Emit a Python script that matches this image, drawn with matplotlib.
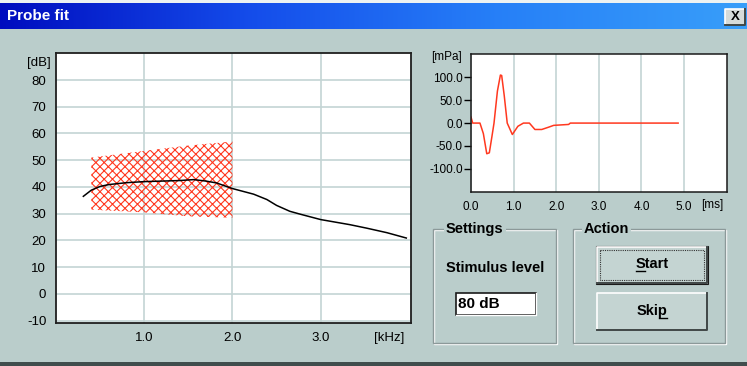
import numpy as np
import matplotlib
matplotlib.use("Agg")
import matplotlib.pyplot as plt
from matplotlib.patches import Rectangle
from matplotlib.colors import LinearSegmentedColormap

plt.rcParams['font.family'] = ['Liberation Sans', 'DejaVu Sans']
plt.rcParams['hatch.linewidth'] = 0.8

# probe fit curve (left chart)
freq_khz = [0.31, 0.4, 0.5, 0.6, 0.8, 1.0, 1.2, 1.4, 1.56, 1.7, 1.82, 2.0, 2.24,
            2.39, 2.5, 2.65, 2.77, 3.0, 3.33, 3.52, 3.75, 3.97]
level_db = [36.5, 38.8, 40.2, 40.9, 41.6, 42.0, 42.2, 42.4, 42.75, 42.2, 41.5, 39.4,
            37.3, 35.3, 33.1, 30.9, 29.8, 27.8, 25.9, 24.6, 22.9, 20.9]

# tolerance band (hatched)
band_khz = [0.4, 1.0, 1.5, 2.0]
band_lo = [31.5, 30.5, 29.0, 28.5]
band_hi = [51.0, 53.5, 55.5, 57.0]

db_ticks = [80, 70, 60, 50, 40, 30, 20, 10, 0, -10]
khz_ticks = [1.0, 2.0, 3.0]

# stimulus waveform (right chart)
t_ms = [0.0, 0.04, 0.21, 0.29, 0.37, 0.43, 0.49, 0.54, 0.62, 0.69, 0.72, 0.78, 0.85,
        0.97, 1.1, 1.23, 1.37, 1.5, 1.66, 1.82, 1.94, 2.29, 2.33, 4.86]
p_mpa = [13, 0, 0, -23, -67, -65, -30, 0, 70, 105, 104, 60, 0, -25, -7, 0, 0, -14,
         -14, -9, -5, -3, 0, 0]

mpa_ticks = [100, 50, 0, -50, -100]
ms_ticks = [0, 1, 2, 3, 4, 5]

W, H = 747, 366
BG = (186/255, 205/255, 203/255)
BTN = (196/255, 212/255, 210/255)
GRID = (196/255, 212/255, 212/255)
RED = (1.0, 0.22, 0.12)
UI_FS = 10.5

fig = plt.figure(figsize=(W/100, H/100), dpi=100)
fig.patch.set_facecolor(BG)

# ---- dialog chrome, pixel coordinates ----
bg = fig.add_axes([0, 0, 1, 1])
bg.axis('off')
bg.add_patch(Rectangle((0, 0), W, 3, facecolor=(0.93, 0.95, 0.95), edgecolor='none'))
cmap = LinearSegmentedColormap.from_list('tb', [(0.0, 0.05, 0.75), (0.08, 0.30, 0.92),
                                                (0.15, 0.50, 0.97), (0.22, 0.62, 0.98)])
grad = np.linspace(0, 1, 256).reshape(1, -1)
bg.imshow(grad, extent=[0, W, 29, 3], aspect='auto', cmap=cmap)
bg.set_xlim(0, W)
bg.set_ylim(H, 0)
bg.text(7, 16.5, "Probe fit", color='white', fontsize=11, fontweight='bold', va='center', ha='left')

def button(x0, y0, x1, y1, face=BTN, default=False):
    bg.add_patch(Rectangle((x0, y0), x1 - x0, y1 - y0, facecolor=face, edgecolor='none'))
    bg.plot([x0, x0, x1], [y1, y0, y0], color='white', lw=1.2)
    bg.plot([x0, x1, x1], [y1, y1, y0], color=(0.25, 0.28, 0.28), lw=1.4)
    if default:
        bg.add_patch(Rectangle((x0 - 1, y0 - 1), x1 - x0 + 2, y1 - y0 + 2, facecolor='none',
                               edgecolor=(0.1, 0.1, 0.1), lw=0.8))
        bg.add_patch(Rectangle((x0 + 3, y0 + 3), x1 - x0 - 6, y1 - y0 - 6, facecolor='none',
                               edgecolor=(0.2, 0.2, 0.2), lw=0.8, linestyle=(0, (1, 1))))

# close button
button(725, 9, 745, 25, face=(0.84, 0.86, 0.85))
bg.text(735, 17.5, "X", fontsize=9.5, fontweight='bold', ha='center', va='center')

def group(x0, y0, x1, y1, label, lx):
    bg.add_patch(Rectangle((x0 + 1, y0 + 1), x1 - x0, y1 - y0, facecolor='none', edgecolor='white', lw=1))
    bg.add_patch(Rectangle((x0, y0), x1 - x0, y1 - y0, facecolor='none', edgecolor=(0.55, 0.6, 0.6), lw=1))
    bg.text(lx, y0, label, fontsize=UI_FS, fontweight='bold', ha='left', va='center',
            bbox=dict(facecolor=BG, edgecolor='none', pad=1.5))

def underlined(xc, y, s, idx, uy):
    t = bg.text(xc, y, s, fontsize=UI_FS, fontweight='bold', ha='center', va='center')
    r = fig.canvas.get_renderer()
    bb = t.get_window_extent(r)
    def width(sub):
        if not sub:
            return 0.0
        tmp = bg.text(0, 0, sub, fontsize=UI_FS, fontweight='bold')
        w = tmp.get_window_extent(r).width
        tmp.remove()
        return w
    inv = bg.transData.inverted()
    xa = inv.transform((bb.x0 + width(s[:idx]), 0))[0]
    xb = inv.transform((bb.x0 + width(s[:idx + 1]), 0))[0]
    bg.plot([xa + 0.5, xb - 0.5], [uy, uy], color='black', lw=1)

group(433, 229, 556, 343, "Settings", 446)
group(573, 229, 725, 343, "Action", 584)

bg.text(495, 268, "Stimulus level", fontsize=UI_FS, fontweight='bold', ha='center', va='center')
bg.add_patch(Rectangle((456, 293), 80, 22, facecolor='white', edgecolor=(0.1, 0.1, 0.1), lw=1.2))
bg.plot([456, 536, 536], [315, 315, 293], color='white', lw=1)
bg.text(458.5, 304, "80 dB", fontsize=11, fontweight='bold', ha='left', va='center')

button(597, 247, 707, 283, default=True)
underlined(652, 264, "Start", 0, 271)
button(597, 293, 707, 330)
underlined(652, 311, "Skip", 3, 318)

bg.add_patch(Rectangle((0, 362), W, 4, facecolor=(0.25, 0.3, 0.3), edgecolor='none'))

# ---- left chart: probe fit ----
ax = fig.add_axes([56/W, 1 - 323.3/H, 354.7/W, 270/H])
ax.set_facecolor('white')
ax.fill_between(band_khz, band_lo, band_hi, facecolor='none', edgecolor=RED, hatch='xxxx', linewidth=0)
ax.plot(freq_khz, level_db, color='black', lw=1.1)
ax.set_xlim(0, 4.02)
ax.set_ylim(-11, 90)
ax.set_yticks(db_ticks)
ax.set_yticklabels([str(v) for v in db_ticks])
ax.set_xticks(khz_ticks)
ax.set_xticklabels(["%.1f" % v for v in khz_ticks])
ax.grid(True, color=GRID, lw=1.2)
ax.set_axisbelow(True)
ax.tick_params(length=0, labelsize=9.5, pad=7)
ax.tick_params(axis='x', pad=6)
for s in ax.spines.values():
    s.set_linewidth(1.3)
    s.set_color((0.12, 0.12, 0.12))
ax.text(-0.014, 0.965, "[dB]", transform=ax.transAxes, ha='right', va='center', fontsize=9.5)
ax.text(3.78, -0.053, "[kHz]", transform=ax.get_xaxis_transform(), ha='center', va='center', fontsize=9.5)

# ---- right chart: waveform ----
ax2 = fig.add_axes([471/W, 1 - 191.7/H, 255.7/W, 137.7/H])
ax2.set_facecolor('white')
ax2.plot(t_ms, p_mpa, color=RED, lw=1.1)
ax2.set_xlim(0, 6.0)
ax2.set_ylim(-150, 151)
ax2.set_yticks(mpa_ticks)
ax2.set_yticklabels(["%.1f" % v for v in mpa_ticks])
ax2.set_xticks(ms_ticks)
ax2.set_xticklabels(["%.1f" % v for v in ms_ticks])
ax2.xaxis.grid(True, color=GRID, lw=1.2)
ax2.set_axisbelow(True)
ax2.tick_params(axis='y', length=5, width=1, direction='out', pad=1, labelsize=8.5)
ax2.tick_params(axis='x', length=0, pad=7, labelsize=8.5)
for s in ax2.spines.values():
    s.set_linewidth(1.1)
    s.set_color((0.1, 0.1, 0.1))
ax2.text(-0.035, 0.98, "[mPa]", transform=ax2.transAxes, ha='right', va='center', fontsize=8.5)
ax2.text(5.65, -0.095, "[ms]", transform=ax2.get_xaxis_transform(), ha='center', va='center', fontsize=8.5)

fig.savefig("out.png", dpi=100, facecolor=fig.get_facecolor())
